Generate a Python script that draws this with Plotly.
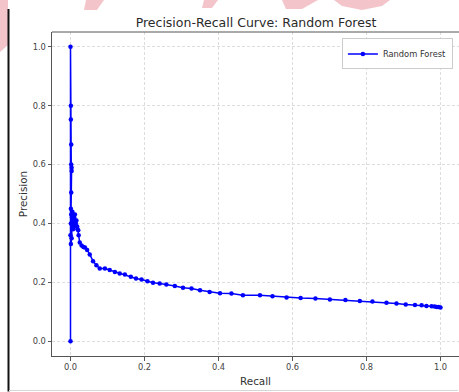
import plotly.graph_objects as go

# ---- data ----
recall = [0.000, 0.000, 0.001, 0.001, 0.002, 0.002, 0.003, 0.003, 0.002,
          0.001, 0.002, 0.001, 0.000, 0.001, 0.003, 0.004, 0.005, 0.006, 0.007,
          0.008, 0.009, 0.010, 0.011, 0.012, 0.013, 0.014, 0.016, 0.018, 0.019,
          0.021, 0.022, 0.025, 0.030, 0.035, 0.039, 0.045, 0.052, 0.061, 0.070,
          0.079, 0.093, 0.106, 0.120, 0.133, 0.147, 0.163, 0.177, 0.192, 0.208,
          0.223, 0.241, 0.259, 0.282, 0.304, 0.327, 0.350, 0.376, 0.404, 0.435,
          0.466, 0.512, 0.546, 0.584, 0.622, 0.662, 0.701, 0.743, 0.782, 0.816,
          0.854, 0.881, 0.906, 0.931, 0.949, 0.962, 0.976, 0.984, 0.990, 0.995,
          1.000]
precision = [0.000, 1.000, 0.800, 0.753, 0.668, 0.600, 0.589, 0.578, 0.505,
             0.450, 0.430, 0.400, 0.360, 0.330, 0.350, 0.420, 0.440, 0.410, 0.380,
             0.430, 0.400, 0.420, 0.390, 0.430, 0.410, 0.400, 0.410, 0.390, 0.380,
             0.377, 0.360, 0.335, 0.325, 0.320, 0.318, 0.310, 0.295, 0.272, 0.258,
             0.247, 0.247, 0.242, 0.235, 0.230, 0.227, 0.219, 0.213, 0.210, 0.204,
             0.199, 0.196, 0.193, 0.188, 0.182, 0.179, 0.173, 0.167, 0.163, 0.162,
             0.156, 0.156, 0.153, 0.149, 0.147, 0.145, 0.142, 0.140, 0.137, 0.135,
             0.131, 0.128, 0.125, 0.123, 0.122, 0.120, 0.119, 0.118, 0.116, 0.116,
             0.115]
series_name = "Random Forest"
title_text = "Precision-Recall Curve: Random Forest"
x_label = "Recall"
y_label = "Precision"
tick_vals = [0.0, 0.2, 0.4, 0.6, 0.8, 1.0]
tick_text = ["0.0", "0.2", "0.4", "0.6", "0.8", "1.0"]

W, H = 459, 392
L, R, T, B = 52, 0, 32, 36
PW, PH = W - L - R, H - T - B

def px(x):
    return (x - L) / PW

def py(y):
    return (H - B - y) / PH

FONT = "DejaVu Sans"

fig = go.Figure()
fig.add_trace(go.Scatter(
    x=recall, y=precision, mode="lines+markers", name=series_name,
    line=dict(color="#0000ff", width=1.5),
    marker=dict(color="#0000ff", size=4.5),
))

shapes = []
pink = "#f3c5ca"
# faint watermark fragments at top/left edges (kept inside the page)
for pts in [
    [(0, 0), (8, 0), (8, 45), (0, 52)],
    [(86, 0), (104, 0), (97, 10), (84, 10)],
    [(204, 0), (218, 0), (212, 8), (202, 8)],
    [(282, 0), (318, 0), (302, 9), (286, 9)],
    [(334, 0), (390, 0), (382, 6), (362, 10), (342, 6)],
]:
    path = "M " + " L ".join(f"{px(a):.4f},{py(b):.4f}" for a, b in pts) + " Z"
    shapes.append(dict(type="path", xref="paper", yref="paper", path=path,
                       fillcolor=pink, line=dict(width=0), layer="below"))
# black left frame line
shapes.append(dict(type="line", xref="paper", yref="paper",
                   x0=px(8.5), x1=px(8.5), y0=py(9), y1=py(391.5),
                   line=dict(color="#111111", width=2)))
# faint bottom line
shapes.append(dict(type="line", xref="paper", yref="paper",
                   x0=px(9), x1=px(458), y0=py(390.5), y1=py(390.5),
                   line=dict(color="#d6d6d6", width=1)))
# top spine
shapes.append(dict(type="line", xref="paper", yref="paper",
                   x0=0, x1=1, y0=1, y1=1,
                   line=dict(color="#555555", width=1)))

fig.update_layout(
    width=W, height=H,
    margin=dict(l=L, r=R, t=T, b=B, pad=0),
    paper_bgcolor="white", plot_bgcolor="white",
    font=dict(family=FONT, color="#333333"),
    title=dict(text=title_text, x=px(256), xref="paper", xanchor="center",
               y=1 - 23 / H, yref="container", yanchor="middle",
               font=dict(size=12.5, color="#2a2a2a", family=FONT)),
    showlegend=True,
    legend=dict(x=0.985, y=0.98, xanchor="right", yanchor="top",
                bgcolor="white", bordercolor="#cccccc", borderwidth=1,
                font=dict(size=8.3, color="#333333", family=FONT),
                itemwidth=30, tracegroupgap=0),
    shapes=shapes,
)
common = dict(
    range=[-0.05, 1.05], tickvals=tick_vals, ticktext=tick_text,
    showline=True, linecolor="#555555", linewidth=1,
    ticks="outside", ticklen=3.5, tickcolor="#555555", tickwidth=1,
    tickfont=dict(size=8.3, color="#444444", family=FONT),
    showgrid=True, gridcolor="#dddddd", gridwidth=0.8, griddash="3px,2px",
    zeroline=False,
)
fig.update_xaxes(**common,
                 title=dict(text=x_label,
                            font=dict(size=10.4, color="#333333", family=FONT),
                            standoff=6))
fig.update_yaxes(**common,
                 title=dict(text=y_label,
                            font=dict(size=10.4, color="#333333", family=FONT),
                            standoff=2))

fig.write_html(
    "out.html",
    config={"displayModeBar": False},
    post_script=("document.documentElement.style.overflow='hidden';"
                 "document.body.style.overflow='hidden';"
                 "document.body.style.margin='0';"),
)
